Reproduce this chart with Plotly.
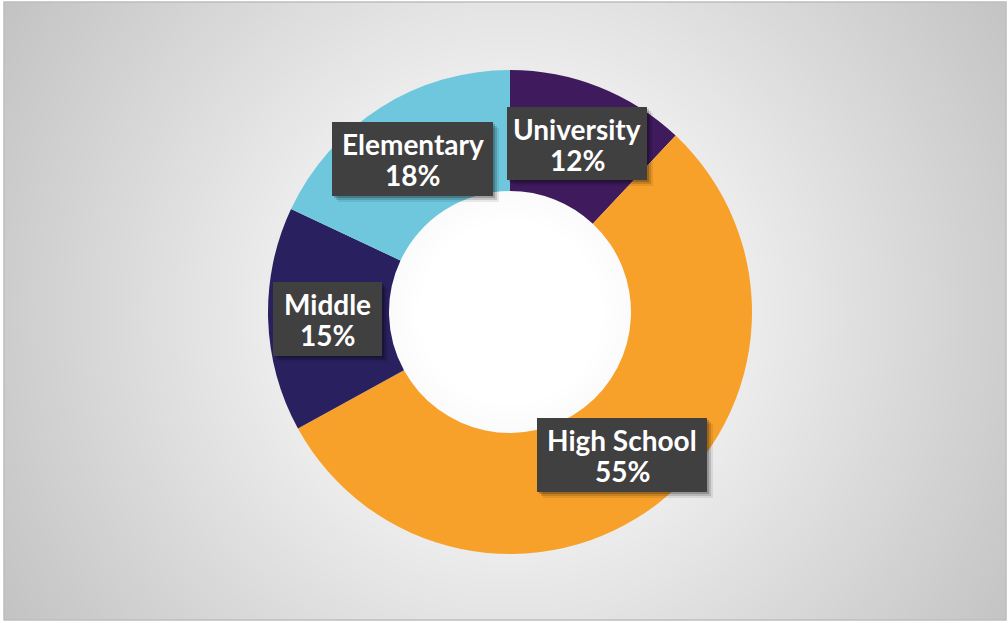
import numpy as np
import plotly.graph_objects as go

# Education level shares
levels = ["University", "High School", "Middle", "Elementary"]
shares = [12, 55, 15, 18]
slice_colors = ["#3f1b5d", "#f8a12a", "#29215f", "#6ec7dc"]

W, H = 1008, 623
cx, cy = 510, 312          # donut centre (px, from top)
r_out = 242                # outer radius (px)

# Label boxes: (x0, y0, x1, y1) in px from top-left
boxes = {
    "University": (507, 107, 647, 180),
    "High School": (537, 418, 707, 492),
    "Middle": (273, 282, 382, 356),
    "Elementary": (332, 122, 493, 196),
}

# Soft radial background for the chart area
ax0, ay0, ax1, ay1 = 4, 2, 1006, 620
nx, ny = 120, 74
dxc = (ax1 - ax0) / nx
dyc = (ay1 - ay0) / ny
xs = ax0 + dxc * (np.arange(nx) + 0.5)
ys = ay0 + dyc * (np.arange(ny) + 0.5)
X, Y = np.meshgrid(xs, ys)
R = np.sqrt((X - cx) ** 2 + (Y - cy) ** 2)
t = np.clip((R - 90) / 500, 0, 1)
shade = 255 - 60 * t ** 0.95

fig = go.Figure()
fig.add_trace(go.Heatmap(
    x=xs, y=ys, z=shade, zmin=190, zmax=255, zsmooth="best",
    colorscale=[[0, "rgb(190,190,190)"], [1, "rgb(255,255,255)"]],
    showscale=False, hoverinfo="skip",
))

fig.add_trace(go.Pie(
    labels=levels, values=shares, hole=0.5, sort=False,
    direction="clockwise", rotation=0,
    marker=dict(colors=slice_colors, line=dict(width=0)),
    textinfo="none", hoverinfo="label+percent", showlegend=False,
    domain=dict(x=[(cx - r_out) / W, (cx + r_out) / W],
                y=[(H - cy - r_out) / H, (H - cy + r_out) / H]),
))

shapes = [dict(type="rect", xref="x", yref="y", x0=ax0, y0=ay0, x1=ax1, y1=ay1,
               line=dict(color="#bdbdbd", width=1.5), fillcolor="rgba(0,0,0,0)",
               layer="above")]
annotations = []
for name, val in zip(levels, shares):
    x0, y0, x1, y1 = boxes[name]
    # drop shadow
    for off, alpha in ((6, 0.08), (4, 0.14), (2, 0.2)):
        shapes.append(dict(type="rect", xref="x", yref="y",
                           x0=x0 + off, y0=y0 + off, x1=x1 + off, y1=y1 + off,
                           line=dict(width=0), fillcolor=f"rgba(0,0,0,{alpha})",
                           layer="above"))
    shapes.append(dict(type="rect", xref="x", yref="y", x0=x0, y0=y0, x1=x1, y1=y1,
                       line=dict(width=0), fillcolor="#404040", layer="above"))
    xc = (x0 + x1) / 2
    ym = (y0 + y1) / 2
    for txt, yy in ((name, ym - 15), (f"{val}%", ym + 16)):
        annotations.append(dict(
            x=xc, y=yy, xref="x", yref="y", text=f"<b>{txt}</b>", showarrow=False,
            font=dict(family="Lato, sans-serif", size=28, color="white"),
            xanchor="center", yanchor="middle",
        ))

fig.update_layout(
    width=W, height=H, autosize=False,
    margin=dict(l=0, r=0, t=0, b=0),
    paper_bgcolor="white", plot_bgcolor="white",
    xaxis=dict(range=[0, W], visible=False, fixedrange=True, domain=[0, 1]),
    yaxis=dict(range=[H, 0], visible=False, fixedrange=True, domain=[0, 1]),
    shapes=shapes, annotations=annotations,
)

fig.write_html("out.html")
